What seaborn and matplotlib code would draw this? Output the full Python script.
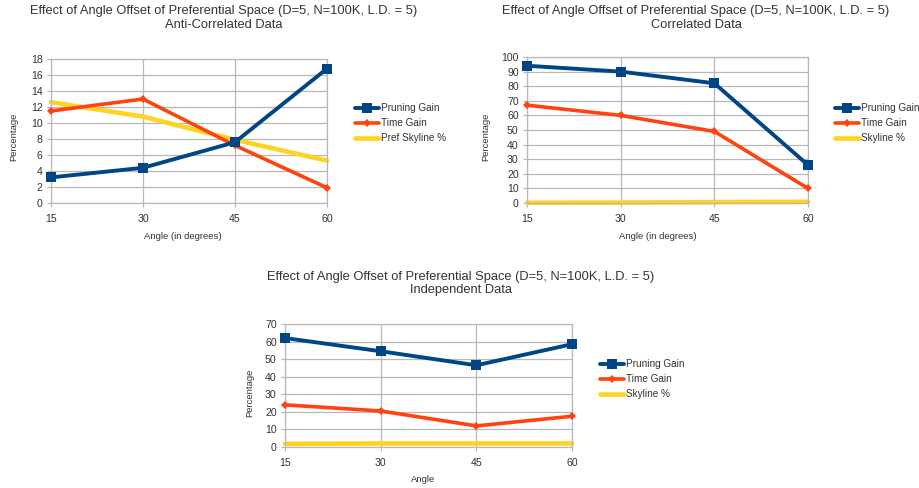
import numpy as np
import pandas as pd
import matplotlib
matplotlib.use("Agg")
import matplotlib.pyplot as plt
import seaborn as sns

# Angle offsets (degrees)
angles = [15, 30, 45, 60]

# Anti-correlated data
anti_pruning = [3.2, 4.4, 7.6, 16.8]
anti_time = [11.5, 13.0, 7.2, 1.9]
anti_skyline = [12.6, 10.8, 7.9, 5.3]

# Correlated data
corr_pruning = [94, 90, 82, 26]
corr_time = [67, 60, 49, 10]
corr_skyline = [0.2, 0.3, 0.6, 0.8]

# Independent data
ind_pruning = [62, 54.5, 46.5, 58.5]
ind_time = [24, 20.5, 12, 17.5]
ind_skyline = [1.8, 2.0, 2.0, 2.0]

title_main = "Effect of Angle Offset of Preferential Space (D=5, N=100K, L.D. = 5)"

sns.set_theme(style="white")
plt.rcParams["font.family"] = ["Liberation Sans", "DejaVu Sans"]

BLUE = "#004586"
ORANGE = "#ff420e"
YELLOW = "#ffd320"
GRID = "#b8b8b8"
TEXT = "#333333"

W, H = 920, 488
fig = plt.figure(figsize=(W / 100, H / 100), dpi=100)
fig.patch.set_facecolor("white")


def px_axes(left, top, right, bottom):
    return fig.add_axes([left / W, 1 - bottom / H, (right - left) / W, (bottom - top) / H])


def draw_panel(ax, pruning, time, skyline, sky_label, ymax, ystep, xlabel,
               title_xy, subtitle, ylabel_xy, xlabel_xy, legend_xy):
    df = pd.DataFrame({
        "Angle": angles * 3,
        "Percentage": list(pruning) + list(time) + list(skyline),
        "Series": ["Pruning Gain"] * 4 + ["Time Gain"] * 4 + [sky_label] * 4,
    })
    specs = [
        ("Pruning Gain", BLUE, "s", 2.8, 6.5, 3),
        ("Time Gain", ORANGE, "D", 2.6, 4.5, 2.8),
        (sky_label, YELLOW, None, 3.3, 0, 2.5),
    ]
    for name, color, marker, lw, ms, z in specs:
        sub = df[df["Series"] == name]
        sns.lineplot(data=sub, x="Angle", y="Percentage", ax=ax, color=color,
                     marker=marker, markersize=ms, linewidth=lw,
                     markeredgewidth=0, label=name, zorder=z, clip_on=False)
    ax.set_xlim(15, 60)
    ax.set_ylim(0, ymax)
    ax.set_xticks(angles)
    yt = np.arange(0, ymax + 0.1, ystep)
    ax.set_yticks(yt)
    ax.set_yticklabels([f"{int(v)}" for v in yt])
    ax.grid(True, color=GRID, linewidth=0.9)
    ax.set_axisbelow(True)
    for s in ax.spines.values():
        s.set_color(GRID)
        s.set_linewidth(0.9)
    ax.tick_params(axis="both", labelsize=7.6, colors=TEXT, length=3, width=0.9,
                   color=GRID, direction="out", bottom=True, left=True)
    ax.tick_params(axis="x", pad=5)
    ax.tick_params(axis="y", pad=3)
    ax.set_xlabel("")
    ax.set_ylabel("")
    leg = ax.legend(loc="center left", bbox_to_anchor=(legend_xy[0] / W, 1 - legend_xy[1] / H),
                    bbox_transform=fig.transFigure, frameon=False, fontsize=7.2,
                    handlelength=2.4, handletextpad=0.2, labelspacing=0.5,
                    borderpad=0, borderaxespad=0)
    for t in leg.get_texts():
        t.set_color(TEXT)
    fig.text(title_xy[0] / W, 1 - title_xy[1] / H, title_main, ha="center", va="center",
             fontsize=9.3, color=TEXT)
    fig.text(title_xy[0] / W, 1 - (title_xy[1] + 13.5) / H, subtitle, ha="center",
             va="center", fontsize=9.3, color=TEXT)
    fig.text(ylabel_xy[0] / W, 1 - ylabel_xy[1] / H, "Percentage", rotation=90,
             ha="center", va="center", fontsize=6.8, color=TEXT)
    fig.text(xlabel_xy[0] / W, 1 - xlabel_xy[1] / H, xlabel, ha="center", va="center",
             fontsize=6.8, color=TEXT)


ax1 = px_axes(51, 59, 327, 203)
draw_panel(ax1, anti_pruning, anti_time, anti_skyline, "Pref Skyline %", 18, 2,
           "Angle (in degrees)", (224, 11), "Anti-Correlated Data",
           (14, 137), (183, 237), (355, 123))

ax2 = px_axes(527, 57, 808, 203)
draw_panel(ax2, corr_pruning, corr_time, corr_skyline, "Skyline %", 100, 10,
           "Angle (in degrees)", (696, 11), "Correlated Data",
           (486, 137), (658, 237), (835, 123))

ax3 = px_axes(285, 324, 572, 447)
draw_panel(ax3, ind_pruning, ind_time, ind_skyline, "Skyline %", 70, 10,
           "Angle", (461, 277), "Independent Data",
           (250, 393), (423, 480), (600, 379))

fig.savefig("out.png", dpi=100, facecolor="white")
